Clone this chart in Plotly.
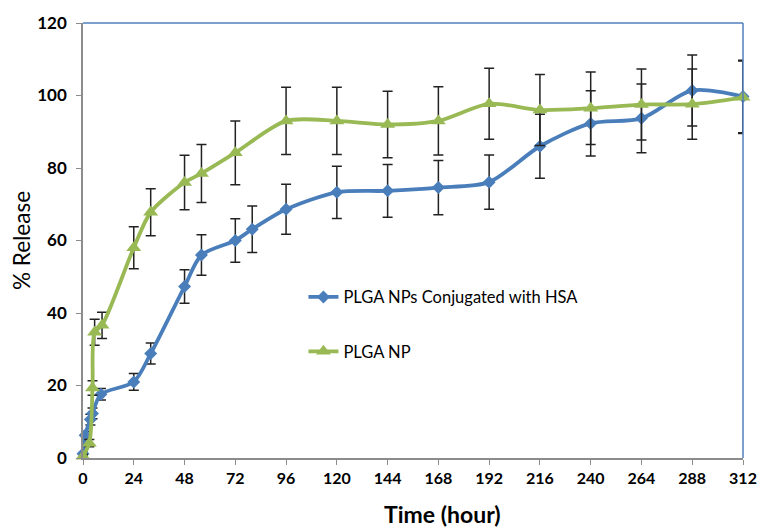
import plotly.graph_objects as go

# Data
hsa_time = [0, 1, 3.5, 4.5, 8.5, 24, 32, 48, 56, 72, 80, 96, 120, 144, 168, 192, 216, 240, 264, 288, 312]
hsa_release = [1.2, 6.3, 10.6, 12.3, 17.6, 21.0, 28.8, 47.3, 56.0, 60.0, 63.1, 68.6, 73.3, 73.7, 74.6, 76.1, 86.0, 92.3, 93.7, 101.4, 99.7]
hsa_err = [0.5, 1.0, 1.5, 1.5, 1.6, 2.3, 2.9, 4.6, 5.6, 6.0, 6.4, 6.9, 7.2, 7.3, 7.5, 7.5, 8.8, 9.0, 9.5, 9.8, 10.0]

np_time = [0, 3, 4.5, 5.5, 9, 24, 32, 48, 56, 72, 96, 120, 144, 168, 192, 216, 240, 264, 288, 312]
np_release = [0.5, 4.1, 19.3, 34.7, 36.6, 58.0, 67.8, 76.0, 78.5, 84.2, 93.0, 93.0, 92.0, 93.0, 97.7, 96.0, 96.5, 97.5, 97.6, 99.5]
np_err = [0.5, 1.0, 2.0, 3.6, 3.6, 5.8, 6.5, 7.5, 8.0, 8.8, 9.3, 9.3, 9.2, 9.4, 9.8, 9.8, 10.0, 9.8, 9.7, 10.0]

x_ticks = list(range(0, 313, 24))
y_ticks = list(range(0, 121, 20))

BLUE = "#4a7ebb"
GREEN = "#98b954"
FONT = "Lato"

fig = go.Figure()
fig.add_trace(go.Scatter(
    x=hsa_time, y=hsa_release, name="PLGA NPs Conjugated with HSA",
    mode="lines+markers", line=dict(color=BLUE, width=3.8, shape="spline", smoothing=0.8),
    marker=dict(symbol="diamond", size=10, color=BLUE),
    error_y=dict(type="data", array=hsa_err, visible=True, color="#222222", thickness=1.5, width=5),
    legendgroup="a", cliponaxis=False,
))
fig.add_trace(go.Scatter(
    x=np_time, y=np_release, name="PLGA NP",
    mode="lines+markers", line=dict(color=GREEN, width=3.8, shape="spline", smoothing=0.8),
    marker=dict(symbol="triangle-up", size=13, color=GREEN),
    error_y=dict(type="data", array=np_err, visible=True, color="#222222", thickness=1.5, width=5),
    legendgroup="b", cliponaxis=False,
))

fig.update_layout(
    width=769, height=530,
    margin=dict(l=83, r=17, t=21, b=72),
    paper_bgcolor="white", plot_bgcolor="white",
    font=dict(family=FONT, color="black"),
    showlegend=True,
    legend=dict(x=0.334, y=0.41, xanchor="left", yanchor="top",
                font=dict(size=16.5, family=FONT, color="black"),
                bgcolor="rgba(0,0,0,0)", tracegroupgap=30, itemwidth=30),
    xaxis=dict(range=[0, 312], tickvals=x_ticks, ticktext=[str(v) for v in x_ticks],
               showgrid=False, zeroline=False, showline=True, linecolor="#8c8c8c", linewidth=1.5,
               ticks="outside", ticklen=5, tickcolor="#8c8c8c",
               tickfont=dict(size=16, family=FONT, weight="bold")),
    yaxis=dict(range=[0, 120], tickvals=y_ticks, ticktext=[str(v) for v in y_ticks],
               showgrid=False, zeroline=False, showline=True, linecolor="#8c8c8c", linewidth=1.5,
               ticks="outside", ticklen=5, tickcolor="#8c8c8c", ticklabelstandoff=6,
               tickfont=dict(size=17, family=FONT, weight="bold"),
               title=dict(text="% Release", font=dict(size=22.5, family=FONT), standoff=0)),
    annotations=[
        dict(text="<b>Time (hour)</b>", xref="paper", yref="paper", x=0.544, y=-0.128,
             xanchor="center", yanchor="middle", showarrow=False,
             font=dict(size=23, family=FONT, color="black")),
    ],
    shapes=[
        dict(type="line", xref="paper", yref="paper", x0=0, x1=1, y0=1, y1=1,
             line=dict(color="#4f81bd", width=1.5)),
        dict(type="line", xref="paper", yref="paper", x0=1, x1=1, y0=0, y1=1,
             line=dict(color="#4f81bd", width=1.5)),
    ],
)

fig.write_html("out.html")
